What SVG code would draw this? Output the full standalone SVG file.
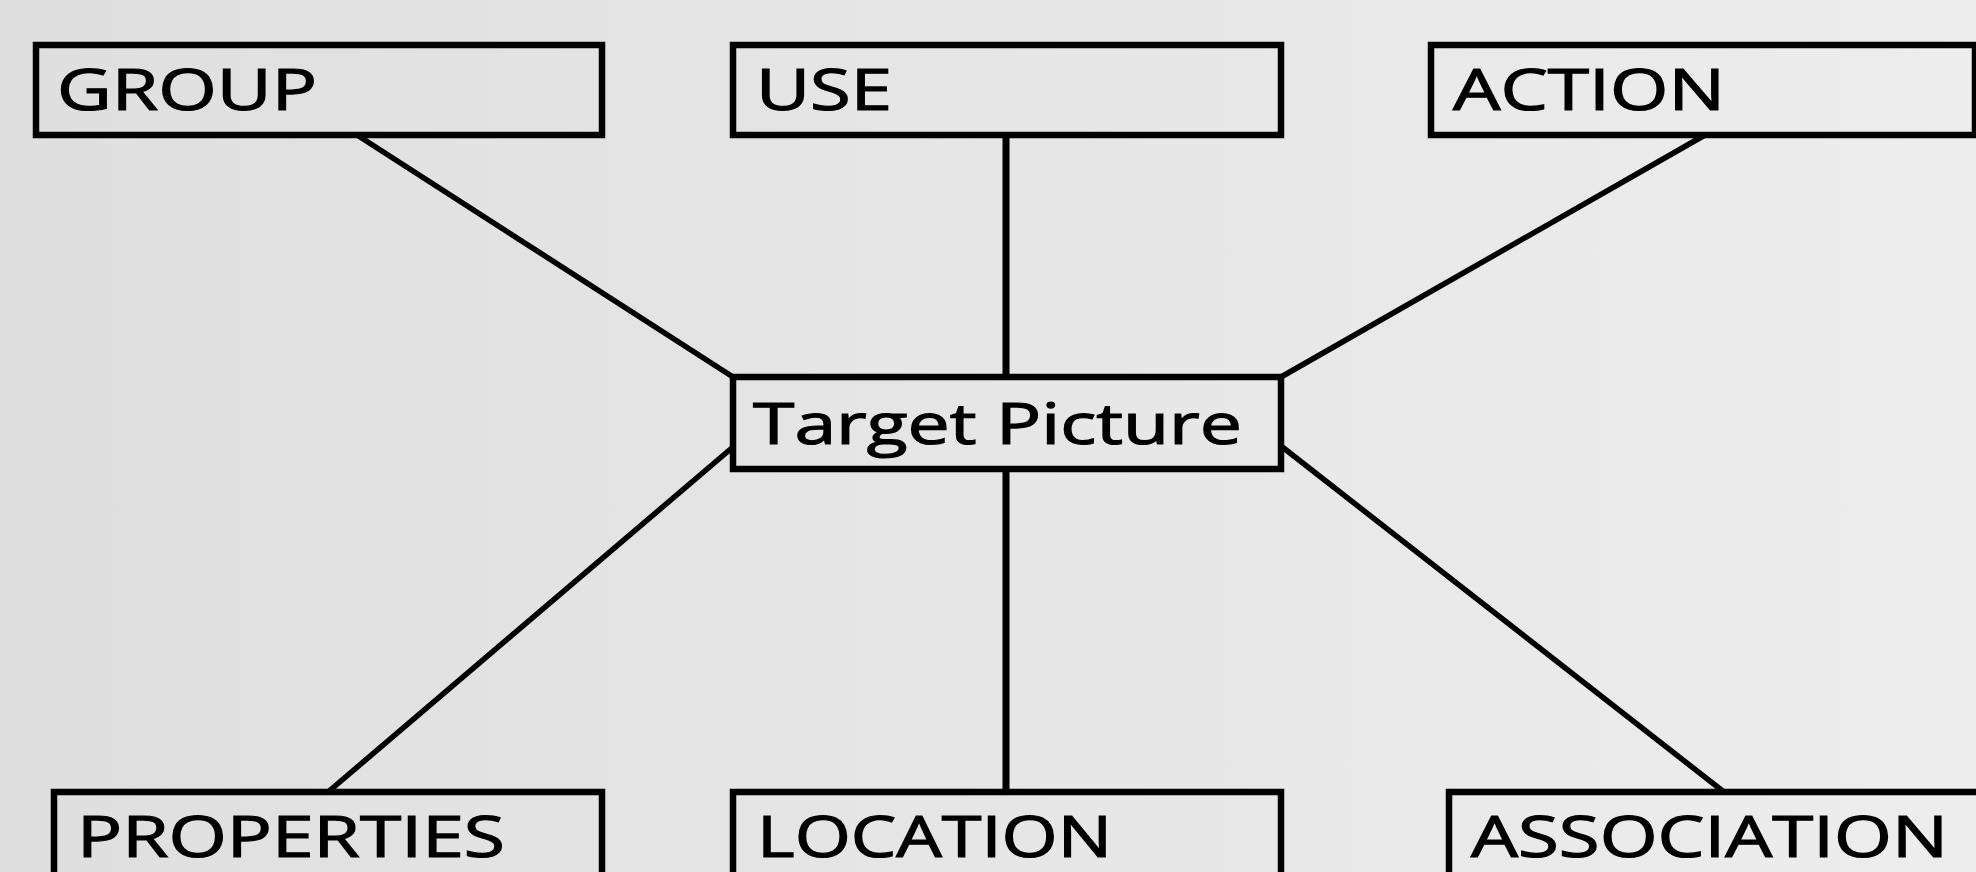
<svg xmlns="http://www.w3.org/2000/svg" width="1976" height="872" viewBox="0 0 1976 872">
  <defs>
    <linearGradient id="bg" x1="0" y1="0" x2="1" y2="0">
      <stop offset="0" stop-color="#dfdfdf"/>
      <stop offset="1" stop-color="#ededed"/>
    </linearGradient>
    <style>
      .box { fill: none; stroke: #000; stroke-width: 6.5; }
      .lbl { font-family: "Open Sans", "Liberation Sans", sans-serif; font-size: 56px; fill: #000; stroke: #000; stroke-width: 1.2; }
      .edge { stroke: #000; stroke-width: 5.5; fill: none; }
      .vedge { stroke: #000; stroke-width: 7; fill: none; }
    </style>
  </defs>
  <rect x="0" y="0" width="1976" height="872" fill="url(#bg)"/>

  <g id="connectors">
    <line class="edge" x1="357" y1="135" x2="733" y2="377"/>
    <line class="vedge" x1="1006" y1="135" x2="1006" y2="377"/>
    <line class="edge" x1="1705" y1="135" x2="1281" y2="377"/>
    <line class="edge" x1="733" y1="447" x2="328" y2="792"/>
    <line class="vedge" x1="1006" y1="469" x2="1006" y2="792"/>
    <line class="edge" x1="1281" y1="446" x2="1724" y2="792"/>
  </g>

  <g id="node-group">
    <rect class="box" x="36" y="45" width="566" height="90"/>
    <text class="lbl" x="57" y="110" textLength="260" lengthAdjust="spacingAndGlyphs">GROUP</text>
  </g>
  <g id="node-use">
    <rect class="box" x="733" y="45" width="548" height="90"/>
    <text class="lbl" x="756" y="110" textLength="136" lengthAdjust="spacingAndGlyphs">USE</text>
  </g>
  <g id="node-action">
    <rect class="box" x="1431" y="45" width="544" height="90"/>
    <text class="lbl" x="1453" y="110" textLength="272" lengthAdjust="spacingAndGlyphs">ACTION</text>
  </g>
  <g id="node-target">
    <rect class="box" x="733" y="377" width="548" height="92"/>
    <text class="lbl" x="753" y="444" textLength="489" lengthAdjust="spacingAndGlyphs">Target Picture</text>
  </g>
  <g id="node-properties">
    <rect class="box" x="54" y="792" width="548" height="100"/>
    <text class="lbl" x="77" y="857" textLength="428" lengthAdjust="spacingAndGlyphs">PROPERTIES</text>
  </g>
  <g id="node-location">
    <rect class="box" x="733" y="792" width="548" height="100"/>
    <text class="lbl" x="757" y="857" textLength="355" lengthAdjust="spacingAndGlyphs">LOCATION</text>
  </g>
  <g id="node-association">
    <rect class="box" x="1449" y="792" width="560" height="100"/>
    <text class="lbl" x="1471" y="857" textLength="477" lengthAdjust="spacingAndGlyphs">ASSOCIATION</text>
  </g>
</svg>
